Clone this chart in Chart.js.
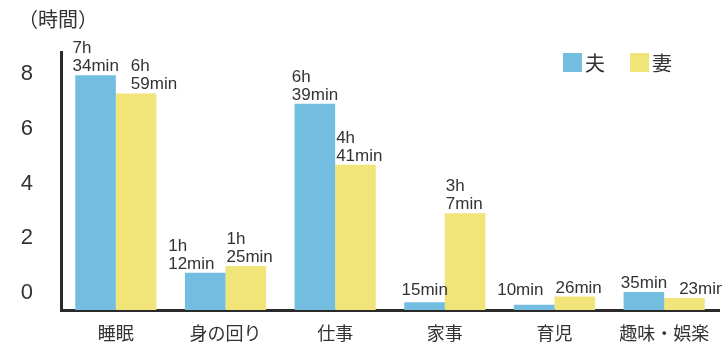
<!DOCTYPE html>
<html lang="ja">
<head>
<meta charset="utf-8">
<script src="https://cdn.jsdelivr.net/npm/chart.js@4.4.1/dist/chart.umd.min.js"></script>
<style>
  body { margin: 0; background: #fff; }
</style>
</head>
<body>
<canvas id="chart" width="722" height="346"></canvas>
<script>
// Data (minutes per day)
const categories = ['睡眠', '身の回り', '仕事', '家事', '育児', '趣味・娯楽'];
const seriesNames = ['夫', '妻'];
const husbandMinutes = [454, 72, 399, 15, 10, 35];
const wifeMinutes = [419, 85, 281, 187, 26, 23];
const tickValues = [0, 2, 4, 6, 8];
const unitLabel = '（時間）';

const BLUE = '#73bde0';
const YELLOW = '#f1e478';
const TEXT = '#333333';
const AXIS = '#2a2a2a';

function toHours(m) { return m / 60; }

function durationLines(m) {
    const h = Math.floor(m / 60), rest = m % 60;
    return h > 0 ? [h + 'h', rest + 'min'] : [rest + 'min'];
}

// value labels above the bars, nudged apart when they collide
const valueLabels = {
    id: 'valueLabels',
    afterDatasetsDraw(chart) {
        const ctx = chart.ctx;
        const lh = 18, gap = 12;
        const minutes = [husbandMinutes, wifeMinutes];
        ctx.save();
        ctx.font = '17px "Liberation Sans", Arial, sans-serif';
        ctx.fillStyle = TEXT;
        ctx.textAlign = 'left';
        ctx.textBaseline = 'alphabetic';
        categories.forEach((c, i) => {
            const blocks = [0, 1].map(d => {
                const bar = chart.getDatasetMeta(d).data[i];
                const lines = durationLines(minutes[d][i]);
                const w = Math.max(...lines.map(t => ctx.measureText(t).width));
                const base = Math.min(bar.y - 4, chart.chartArea.bottom - 15);
                const left = d === 0 ? bar.x + bar.width / 2 + 3 - w : bar.x - bar.width / 2 + 1;
                return {lines, w, base, left, top: base - (lines.length - 1) * lh - 13, value: minutes[d][i]};
            });
            const [a, b] = blocks;
            const vOverlap = a.top < b.base && b.top < a.base;
            if (vOverlap && a.left + a.w + gap > b.left) {
                if (a.value >= b.value) b.left = a.left + a.w + gap;
                else a.left = b.left - gap - a.w;
            }
            blocks.forEach(bk => bk.lines.forEach((t, k) => {
                ctx.fillText(t, bk.left, bk.base - (bk.lines.length - 1 - k) * lh);
            }));
        });
        ctx.restore();
    }
};

// unit label and legend
const decorations = {
    id: 'decorations',
    afterDraw(chart) {
        const ctx = chart.ctx;
        ctx.save();
        ctx.fillStyle = TEXT;
        ctx.font = '20px "Noto Sans CJK JP", sans-serif';
        ctx.textBaseline = 'middle';
        ctx.fillText(unitLabel, 18, 19);
        chart.data.datasets.forEach((ds, i) => {
            const x = 563 + i * 67;
            ctx.fillStyle = ds.backgroundColor;
            ctx.fillRect(x, 53, 19, 19);
            ctx.fillStyle = TEXT;
            ctx.fillText(ds.label, x + 22, 63);
        });
        ctx.restore();
    }
};

function initChart() {
    const ctx = document.getElementById('chart').getContext('2d');
    new Chart(ctx, {
        type: 'bar',
        data: {
            labels: categories,
            datasets: [{
                label: seriesNames[0],
                data: husbandMinutes.map(toHours),
                backgroundColor: BLUE
            }, {
                label: seriesNames[1],
                data: wifeMinutes.map(toHours),
                backgroundColor: YELLOW
            }]
        },
        options: {
            responsive: false,
            animation: false,
            categoryPercentage: 0.74,
            barPercentage: 1,
            layout: {padding: {top: 52, left: 21, right: 3, bottom: 2}},
            plugins: {
                legend: {display: false},
                tooltip: {enabled: false}
            },
            scales: {
                x: {
                    grid: {display: false, drawTicks: false},
                    border: {display: true, color: AXIS, width: 3},
                    ticks: {
                        font: {family: '"Noto Sans CJK JP", sans-serif', size: 18},
                        color: TEXT,
                        padding: 12
                    },
                    afterFit: scale => {
                        scale.height = 34;
                        scale.paddingLeft = scale.paddingRight = 0;
                    }
                },
                y: {
                    display: false,
                    min: 0,
                    max: 8.32
                },
                yTicks: {
                    position: 'left',
                    min: -0.62,
                    max: 8.8,
                    grid: {display: false, drawTicks: false},
                    border: {display: true, color: AXIS, width: 3},
                    ticks: {
                        font: {family: '"Liberation Sans", Arial, sans-serif', size: 22},
                        color: TEXT,
                        padding: 28
                    },
                    afterBuildTicks: scale => {
                        scale.ticks = tickValues.map(v => ({value: v}));
                    },
                    afterFit: scale => {
                        scale.width = 40;
                        scale.paddingTop = scale.paddingBottom = 0;
                    }
                }
            }
        },
        plugins: [valueLabels, decorations]
    });
}

document.addEventListener('DOMContentLoaded', initChart);
</script>
</body>
</html>
